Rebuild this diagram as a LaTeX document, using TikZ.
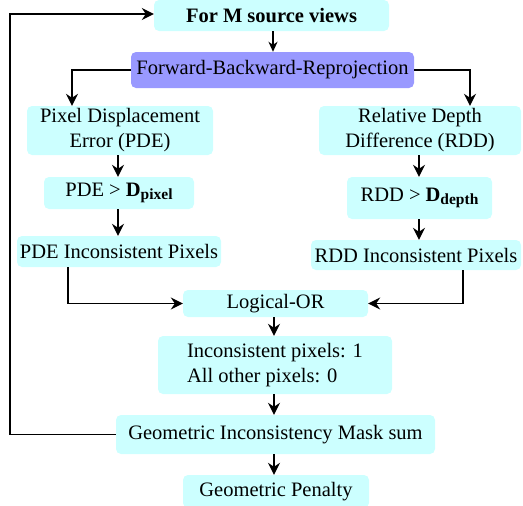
\documentclass[tikz,border=0pt]{standalone}
\usepackage{fontspec}
\setmainfont{Liberation Serif}
\usetikzlibrary{arrows.meta}
\definecolor{boxcyan}{HTML}{CCFFFF}
\definecolor{boxviolet}{HTML}{9999FF}
\begin{document}
\begin{tikzpicture}[x=1pt,y=-1pt,
  box/.style={fill=boxcyan,rounded corners=5pt,inner sep=0pt,align=center,
    font=\fontsize{20.5}{24}\selectfont},
  conn/.style={line width=1.4pt,-{Stealth[length=12pt,width=12pt,inset=4pt]}},
  plain/.style={line width=1.4pt}]
\useasboundingbox (0,0) rectangle (523,506);
\begin{scope}
\clip (0,0) rectangle (523,506);
\node[box,minimum width=235pt,minimum height=31pt] (top) at (271.5,15.5) {\textbf{For M source views}};
\node[box,fill=boxviolet,minimum width=283pt,minimum height=36pt] (fbr) at (272.5,70) {Forward-Backward-Reprojection};
\node[box,minimum width=186pt,minimum height=49pt,font=\fontsize{20.5}{25}\selectfont] (pde) at (120,130.5) {Pixel Displacement\\Error (PDE)};
\node[box,minimum width=202pt,minimum height=49pt,font=\fontsize{20.5}{25}\selectfont] (rdd) at (420,130.5) {Relative Depth\\Difference (RDD)};
\node[box,minimum width=150pt,minimum height=32pt] (pdeth) at (119,193) {PDE > \textbf{D}\raisebox{-0.35ex}{\fontsize{15.5}{15}\selectfont\textbf{pixel}}};
\node[box,minimum width=145pt,minimum height=42pt] (rddth) at (419.5,198) {RDD > \textbf{D}\raisebox{-0.35ex}{\fontsize{15.5}{15}\selectfont\textbf{depth}}};
\node[box,minimum width=204pt,minimum height=31pt] (pdei) at (119,251.5) {PDE Inconsistent Pixels};
\node[box,minimum width=210pt,minimum height=30pt] (rddi) at (416,255) {RDD Inconsistent Pixels};
\node[box,minimum width=185pt,minimum height=27pt] (or) at (275.5,303.5) {Logical-OR};
\node[box,minimum width=234pt,minimum height=58pt,align=left,font=\fontsize{20.5}{25}\selectfont] (inc) at (275,365) {Inconsistent pixels: 1\\All other pixels: 0};
\node[box,minimum width=319pt,minimum height=39pt] (gim) at (275.5,434.5) {Geometric Inconsistency Mask sum};
\node[box,minimum width=186pt,minimum height=33pt] (pen) at (276,491.5) {Geometric Penalty};
\end{scope}
\coordinate (fl) at (72,70);
\coordinate (fr) at (470,70);
\coordinate (pl) at (68,303.5);
\coordinate (rl) at (463,303.5);
\coordinate (g1) at (10,434.5);
\coordinate (g2) at (10,14);
\draw[conn,-{Stealth[length=10pt,width=9pt,inset=3pt]}] (top.south -| 273,0) -- (fbr.north -| 273,0);
\draw[conn] (fbr.west) -- (fl) -- (pde.north -| fl);
\draw[conn] (fbr.east) -- (fr) -- (rdd.north -| fr);
\draw[conn] (pde.south -| 118,0) -- (pdeth.north -| 118,0);
\draw[conn] (pdeth.south -| 118,0) -- (pdei.north -| 118,0);
\draw[conn] (rdd.south -| 419,0) -- (rddth.north -| 419,0);
\draw[conn] (rddth.south -| 419,0) -- (rddi.north -| 419,0);
\draw[conn] (pdei.south -| pl) -- (pl) -- (or.west);
\draw[conn] (rddi.south -| rl) -- (rl) -- (or.east);
\draw[conn] (or.south -| 274,0) -- (inc.north -| 274,0);
\draw[conn] (inc.south -| 274,0) -- (gim.north -| 274,0);
\draw[conn] (gim.south -| 274,0) -- (pen.north -| 274,0);
\draw[conn] (gim.west) -- (g1) -- (g2) -- (top.west |- g2);
\end{tikzpicture}
\end{document}
